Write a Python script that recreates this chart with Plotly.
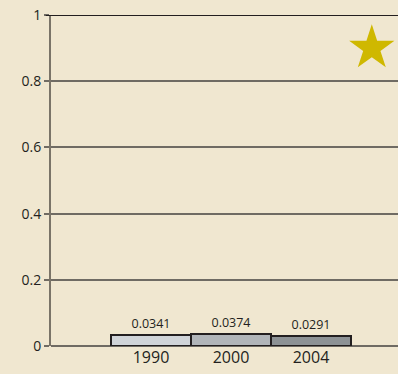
import plotly.graph_objects as go

years = ["1990", "2000", "2004"]
values = [0.0341, 0.0374, 0.0291]
labels = ["0.0341", "0.0374", "0.0291"]
bar_colors = ["#d0d4d8", "#b1b5b9", "#8d9295"]
y_ticks = [0, 0.2, 0.4, 0.6, 0.8, 1]
y_tick_text = ["0", "0.2", "0.4", "0.6", "0.8", "1"]
star_x = 2.76
star_y = 0.9

bg = "#f0e7d0"
ink = "#231f20"
positions = list(range(len(years)))

fig = go.Figure()
fig.add_trace(go.Bar(
    x=positions, y=values, width=1.0,
    marker=dict(color=bar_colors, line=dict(color=ink, width=2)),
    text=labels, textposition="outside", cliponaxis=False,
    textfont=dict(family="Open Sans", size=12.5, color=ink),
    showlegend=False,
))
fig.add_trace(go.Scatter(
    x=[star_x], y=[star_y], mode="markers",
    marker=dict(symbol="star", size=34, color="#cfb800", line=dict(width=0)),
    showlegend=False,
))
fig.add_shape(type="line", xref="paper", yref="y", x0=-0.015, x1=1, y0=1, y1=1,
              line=dict(color=ink, width=2), layer="above")

fig.update_layout(
    width=398, height=374,
    margin=dict(l=51, r=0, t=15, b=28, autoexpand=False),
    paper_bgcolor=bg, plot_bgcolor=bg,
    bargap=0,
    font=dict(family="Open Sans", color=ink),
)
fig.update_xaxes(
    range=[-1.25, 3.0875], tickvals=positions, ticktext=years,
    showgrid=False, zeroline=False, showline=False, ticks="",
    tickfont=dict(size=16, color=ink, family="Open Sans"),
    ticklabelstandoff=0, automargin=False,
)
fig.update_yaxes(
    range=[0, 1], tickvals=y_ticks, ticktext=y_tick_text,
    showgrid=True, gridcolor="#6f6b63", gridwidth=1.5,
    zeroline=True, zerolinecolor="#6f6b63", zerolinewidth=1.5,
    showline=True, linecolor="#7a7468", linewidth=2,
    ticks="outside", ticklen=5, tickcolor="#6f6b63", tickwidth=1.5,
    tickfont=dict(size=14, color=ink, family="Open Sans"),
    automargin=False,
)

fig.write_html(
    "out.html",
    config={"displayModeBar": False},
    post_script="document.body.style.margin='0';document.body.style.background='%s';" % bg,
)
